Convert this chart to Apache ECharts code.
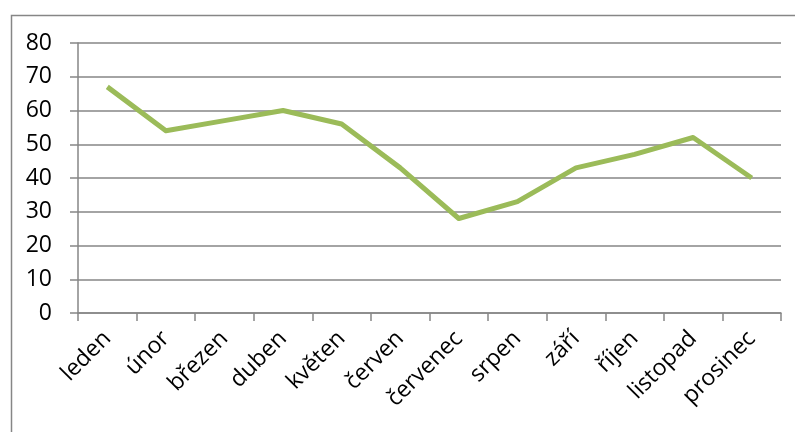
<!DOCTYPE html>
<html><head><meta charset="utf-8">
<script src="https://cdn.jsdelivr.net/npm/echarts@6/dist/echarts.min.js"></script>
<style>html,body{margin:0;padding:0;background:#fff}#c{width:795px;height:432px}</style>
</head><body><div id="c"></div>
<script>
const categories = ['leden','únor','březen','duben','květen','červen','červenec','srpen','září','říjen','listopad','prosinec'];
const values = [67, 54, 57, 60, 56, 43, 28, 33, 43, 47, 52, 40];
const yTicks = [0, 10, 20, 30, 40, 50, 60, 70, 80];

const chart = echarts.init(document.getElementById('c'), null, {renderer: 'canvas'});
const font = '"Open Sans", "Noto Sans", sans-serif';
chart.setOption({
  animation: false,
  graphic: [{
    type: 'rect', left: 9, top: 13, shape: {x: 0, y: 0, width: 800, height: 430},
    style: {fill: 'none', stroke: '#868686', lineWidth: 1.5}, silent: true, z: -1
  }],
  grid: {left: 78, right: 14, top: 43, bottom: 119, containLabel: false},
  xAxis: {
    type: 'category', data: categories, boundaryGap: true,
    axisLine: {lineStyle: {color: '#868686', width: 1.5}},
    axisTick: {show: true, alignWithLabel: false, length: 8, lineStyle: {color: '#868686', width: 1.5}},
    axisLabel: {rotate: 45, color: '#000', fontSize: 23, fontFamily: font, margin: 22, interval: 0}
  },
  yAxis: {
    type: 'value', min: yTicks[0], max: yTicks[yTicks.length - 1], interval: 10,
    axisLine: {show: true, lineStyle: {color: '#868686', width: 1.5}},
    axisTick: {show: true, length: 8, lineStyle: {color: '#868686', width: 1.5}},
    axisLabel: {color: '#000', fontSize: 23, fontFamily: font, margin: 26},
    splitLine: {show: true, lineStyle: {color: '#868686', width: 1.5}}
  },
  series: [{
    type: 'line', data: values, symbol: 'none',
    lineStyle: {color: '#9BBB59', width: 5, join: 'round'},
    itemStyle: {color: '#9BBB59'}
  }]
});
</script></body></html>
